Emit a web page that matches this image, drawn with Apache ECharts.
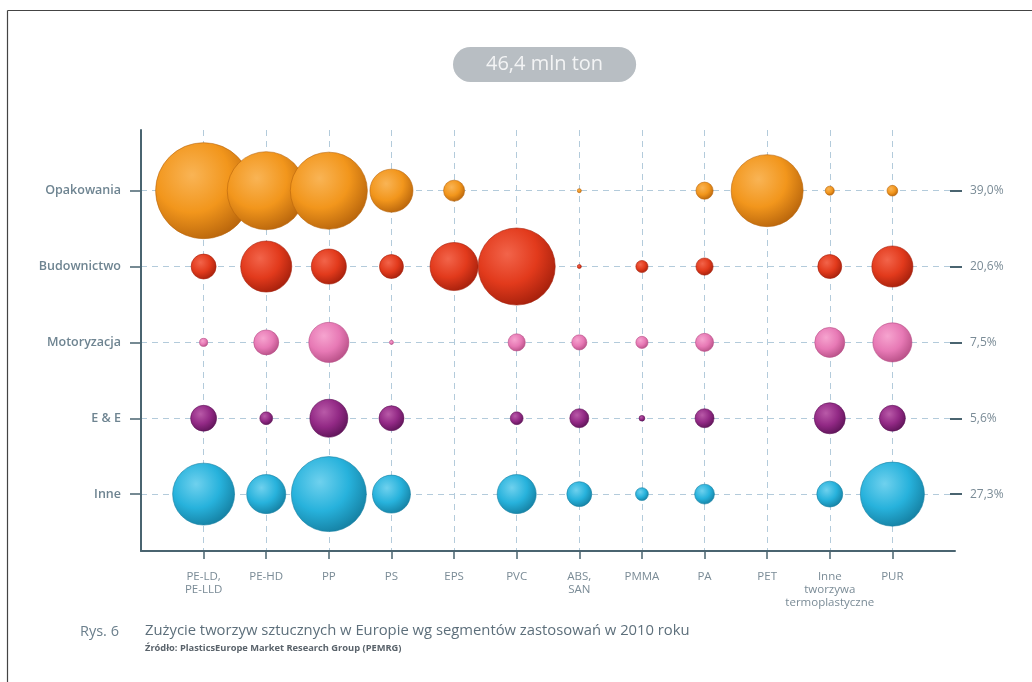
<!DOCTYPE html>
<html><head><meta charset="utf-8">
<script src="https://cdn.jsdelivr.net/npm/echarts@6/dist/echarts.min.js"></script>
<style>html,body{margin:0;padding:0;background:#fff}#c{width:1032px;height:682px}</style>
</head><body><div id="c"></div>
<script>
// ---- data (mln ton) ----
const categories = ['PE-LD,\nPE-LLD','PE-HD','PP','PS','EPS','PVC','ABS,\nSAN','PMMA','PA','PET','Inne\ntworzywa\ntermoplastyczne','PUR'];
const segments = ['Opakowania','Budownictwo','Motoryzacja','E & E','Inne'];
const shares = ['39,0%','20,6%','7,5%','5,6%','27,3%'];
const opakowania  = [5.62,3.71,3.62,1.13,0.27,null,0.01,null,0.18,3.16,0.05,0.07];
const budownictwo = [0.38,1.59,0.75,0.35,1.41,3.62,0.01,0.09,0.18,null,0.35,1.03];
const motoryzacja = [0.04,0.38,0.98,0.01,null,0.18,0.14,0.09,0.20,null,0.55,0.93];
const elektro     = [0.41,0.10,0.88,0.38,null,0.10,0.22,0.02,0.22,null,0.59,0.41];
const inne        = [2.34,0.93,3.43,0.88,null,0.93,0.38,0.10,0.24,null,0.41,2.50];
const total = '46,4 mln ton';

const rows = [opakowania, budownictwo, motoryzacja, elektro, inne];
const palette = [
  ['#f9b455','#f2961c','#b8650c'],
  ['#f2644a','#e23a1c','#a5200c'],
  ['#f6a4cf','#e779b5','#b74f86'],
  ['#b95aa8','#922985','#5e1458'],
  ['#6fd1ee','#27b2dc','#1580a2']
];
const K = 40.5;
const chart = echarts.init(document.getElementById('c'));
const series = rows.map((arr, r) => ({
  type: 'scatter',
  name: segments[r],
  data: arr.map((v, i) => v == null ? null : [i, r, v]).filter(Boolean),
  symbolSize: d => K * Math.sqrt(d[2]),
  itemStyle: {
    color: {type:'radial', x:0.38, y:0.34, r:0.7, colorStops:[
      {offset:0, color: palette[r][0]},
      {offset:0.55, color: palette[r][1]},
      {offset:1, color: palette[r][2]}]},
    borderColor: palette[r][2], borderWidth: 0.6, opacity: 1
  },
  emphasis: {disabled: true}
}));
const axisDark = '#4a6470';
const labelCol = '#7a8b96';
const idx = categories.map((c, i) => i);
chart.setOption({
  animation: false,
  title: {
    text: total, left: 453, top: 47,
    backgroundColor: '#b8bec3', borderRadius: 18,
    padding: [7, 33, 8, 33],
    textStyle: {color: '#f3f4f5', fontSize: 20, fontWeight: 'normal', fontFamily: 'Open Sans'}
  },
  grid: {left: 141, right: 77, top: 130, bottom: 131},
  xAxis: {
    type: 'value', min: -1, max: 12,
    axisLine: {show: true, onZero: false, lineStyle: {color: axisDark, width: 2}},
    axisTick: {show: true, customValues: idx, length: 8, lineStyle: {color: axisDark, width: 1.5}},
    axisLabel: {customValues: idx, formatter: v => categories[v], color: labelCol,
      fontSize: 11.5, fontFamily: 'Open Sans', lineHeight: 13, margin: 19, verticalAlign: 'top'},
    splitLine: {show: true, lineStyle: {color: '#b3cbdb', type: [6, 5], width: 1}}
  },
  yAxis: [{
    type: 'value', min: -0.8, max: 4.75, inverse: true,
    axisLine: {show: true, onZero: false, lineStyle: {color: axisDark, width: 2}},
    axisTick: {show: true, customValues: [0,1,2,3,4], length: 11, lineStyle: {color: axisDark, width: 1.5}},
    axisLabel: {customValues: [0,1,2,3,4], formatter: v => segments[v], color: '#6e8491',
      fontSize: 12.5, fontWeight: 600, fontFamily: 'Open Sans', margin: 20},
    splitLine: {show: true, lineStyle: {color: '#b3cbdb', type: [6, 5], width: 1}}
  }, {
    type: 'value', min: -0.8, max: 4.75, inverse: true, position: 'right', offset: -5,
    axisLine: {show: false, onZero: false},
    axisTick: {show: true, customValues: [0,1,2,3,4], length: 12, lineStyle: {color: axisDark, width: 2}},
    axisLabel: {customValues: [0,1,2,3,4], formatter: v => shares[v], color: labelCol,
      fontSize: 12, fontFamily: 'Open Sans', margin: 20},
    splitLine: {show: false}
  }],
  series: series,
  graphic: [
    {type: 'line', shape: {x1: 7.5, y1: 10.5, x2: 1032, y2: 10.5}, style: {stroke: '#444', lineWidth: 1.2}},
    {type: 'line', shape: {x1: 7.5, y1: 10.5, x2: 7.5, y2: 682}, style: {stroke: '#444', lineWidth: 1.2}},
    {type: 'text', left: 80, top: 624, style: {text: 'Rys. 6', fill: '#6b7f8c', font: '14.5px "Open Sans"'}},
    {type: 'text', left: 145, top: 623, style: {text: 'Zużycie tworzyw sztucznych w Europie wg segmentów zastosowań w 2010 roku', fill: '#5d6f7b', font: '14.8px "Open Sans"'}},
    {type: 'text', left: 145, top: 644, style: {text: 'Źródło: PlasticsEurope Market Research Group (PEMRG)', fill: '#5a636b', font: 'bold 9.3px "Open Sans"'}}
  ]
});
</script></body></html>
